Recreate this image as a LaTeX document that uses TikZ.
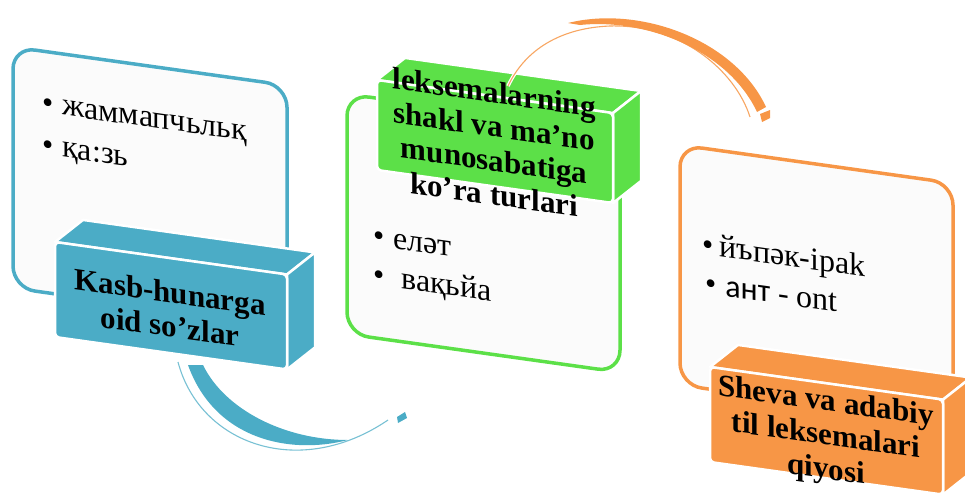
\documentclass[tikz,border=0pt]{standalone}
\usepackage{fontspec}
\setmainfont{Liberation Serif}
\newfontfamily\calib{Carlito}
\definecolor{kblue}{HTML}{4BACC6}
\definecolor{kgreen}{HTML}{5CE048}
\definecolor{korange}{HTML}{F79646}
\definecolor{kpanel}{HTML}{FBFBFB}

\begin{document}
\begin{tikzpicture}[x=1pt,y=-1pt,
  panel/.style={fill=kpanel, line width=3.5pt, rounded corners=22pt},
  face/.style={draw=white, line width=2.5pt, line join=round},
  boxtext/.style={font=\bfseries\fontsize{31}{34}\selectfont, align=center, inner sep=0pt, transform shape},
  itemtext/.style={font=\fontsize{32}{40}\selectfont, anchor=base west, inner sep=0pt, transform shape},
  guide/.style={line width=1.1pt},
  halo/.style={white, line width=3.5pt},
]
\useasboundingbox (0,0) rectangle (965,493);

% ---- panels with bullet lists ----
\begin{scope}[shift={(13,47)}, yslant=-0.14]
  \draw[panel, draw=kblue] (0,0) rectangle (274,241);
  \node[itemtext] (w1) at (29,61) {•\hskip 9pt жаммапчьльқ};
  \node[itemtext] (w2) at (29,103) {•\hskip 9pt қа:зь};
\end{scope}

\begin{scope}[shift={(347,94)}, yslant=-0.14]
  \draw[panel, draw=kgreen] (0,0) rectangle (273,240);
  \node[itemtext] (m1) at (26,148) {•\hskip 9pt еләт};
  \node[itemtext] (m2) at (26,187) {•\hskip 17pt вақьйа};
\end{scope}

\begin{scope}[shift={(680,145)}, yslant=-0.14]
  \draw[panel, draw=korange] (0,0) rectangle (273,240);
  \node[itemtext] (r1) at (22,106) {•\hskip 6pt йъпәк-ipak};
  \node[itemtext] (r2) at (25,145) {•\hskip 9pt{\calib ант} - ont};
\end{scope}

% ---- 3D title blocks (faces) ----
\begin{scope}[shift={(55,242)}, yslant=-0.14]
  \filldraw[fill=kblue, face] (0,0) -- (232,0) -- (260,-26) -- (28,-26) -- cycle;
  \filldraw[fill=kblue, face] (232,0) -- (260,-26) -- (260,69) -- (232,95) -- cycle;
  \filldraw[fill=kblue, face, rounded corners=4pt] (0,0) rectangle (232,95);
\end{scope}

\begin{scope}[shift={(377,80)}, yslant=-0.14]
  \filldraw[fill=kgreen, face] (0,0) -- (236,0) -- (264,-26) -- (28,-26) -- cycle;
  \filldraw[fill=kgreen, face] (236,0) -- (264,-26) -- (264,64) -- (236,90) -- cycle;
  \filldraw[fill=kgreen, face, rounded corners=4pt] (0,0) rectangle (236,90);
\end{scope}

\begin{scope}[shift={(710,367)}, yslant=-0.14]
  \filldraw[fill=korange, face] (0,0) -- (233,0) -- (261,-26) -- (28,-26) -- cycle;
  \filldraw[fill=korange, face] (233,0) -- (261,-26) -- (261,69) -- (233,95) -- cycle;
  \filldraw[fill=korange, face, rounded corners=4pt] (0,0) rectangle (233,95);
\end{scope}

% ---- curved arrows ----
% upper arrow (orange): thin guide, tapering band, detached tip
\draw[halo] (508,86) .. controls (525,50) and (560,28) .. (610,26) .. controls (680,24) and (735,70) .. (750,117);
\draw[guide, korange!85] (508,86) .. controls (525,50) and (560,28) .. (610,26) .. controls (680,24) and (735,70) .. (750,117);
\fill[korange] (568,23) .. controls (640,5) and (735,40) .. (766,107)
  -- (757,112) .. controls (728,50) and (645,18) .. (580,25) -- cycle;
\fill[korange] (760,114) -- (770,110) -- (770,118) -- (762,122) -- cycle;

% lower arrow (blue)
\draw[halo] (178,362) .. controls (200,445) and (300,480) .. (388,420);
\draw[guide, kblue!75] (178,362) .. controls (200,445) and (300,480) .. (388,420);
\fill[kblue] (188,365) .. controls (215,440) and (290,455) .. (348,440)
  .. controls (285,440) and (225,410) .. (203,365) -- cycle;
\fill[kblue] (397,417) -- (405,412) -- (407,418) -- (398,423) -- cycle;

% ---- block captions ----
\begin{scope}[shift={(55,242)}, yslant=-0.14]
  \node[boxtext] (kasb) at (115,51) {Kasb-hunarga\\oid so’zlar};
\end{scope}
\begin{scope}[shift={(377,80)}, yslant=-0.14]
  \node[boxtext] (leks) at (117,47) {leksemalarning\\shakl va ma’no\\munosabatiga\\ko’ra turlari};
\end{scope}
\begin{scope}[shift={(710,367)}, yslant=-0.14]
  \node[boxtext] (sheva) at (116,54) {Sheva va adabiy\\til leksemalari\\qiyosi};
\end{scope}
\end{tikzpicture}
\end{document}
